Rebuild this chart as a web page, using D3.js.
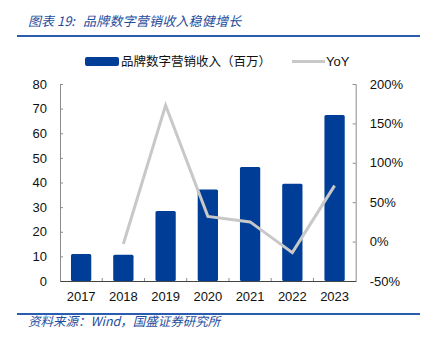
<!DOCTYPE html>
<html><head><meta charset="utf-8">
<script src="https://cdn.jsdelivr.net/npm/d3@7"></script>
<style>body{margin:0;background:#fff}</style>
</head><body>
<svg id="c" width="431" height="340"></svg>
<script>
const years = ["2017","2018","2019","2020","2021","2022","2023"];
const revenue = [11.0, 10.7, 28.4, 37.2, 46.3, 39.5, 67.4];
const yoy = [null, -3, 173, 32, 25, -14, 71];
const leftTicks = [0,10,20,30,40,50,60,70,80];
const rightTicks = [-50,0,50,100,150,200];

const svg = d3.select("#c");
const blue = "#003d96", grey = "#c8c8c8", axisCol = "#8c8c8c";
const font = "Tahoma, 'Liberation Sans', 'DejaVu Sans', sans-serif";
const cjk = "'Noto Sans CJK SC', sans-serif";
const L = 60, R = 355.7, T = 84, B = 281;

const x = d3.scaleBand().domain(years).range([L, R]).paddingInner(0.52).paddingOuter(0.26);
const xb = d3.scaleBand().domain(years).range([L, R]);
const yL = d3.scaleLinear().domain([0, 80]).range([B, T]);
const yR = d3.scaleLinear().domain([-50, 200]).range([B, T]);

// title
svg.append("text").attr("x", 28).attr("y", 26).attr("font-family", cjk)
  .attr("font-style", "italic").attr("font-size", 13).attr("fill", "#1f4e9c")
  .text("图表 19:");
svg.append("text").attr("x", 83).attr("y", 26).attr("font-family", cjk)
  .attr("font-style", "italic").attr("font-size", 13).attr("fill", "#1f4e9c")
  .attr("letter-spacing", 0.2)
  .text("品牌数字营销收入稳健增长");
svg.append("line").attr("x1", 17).attr("x2", 420).attr("y1", 36).attr("y2", 36)
  .attr("stroke", "#2a5db0").attr("stroke-width", 2);

// bars
svg.append("g").selectAll("rect").data(years).join("rect")
  .attr("x", d => x(d)).attr("width", x.bandwidth())
  .attr("y", (d, i) => yL(revenue[i])).attr("height", (d, i) => B - yL(revenue[i]))
  .attr("rx", 1.5).attr("fill", blue);

// line
const line = d3.line().defined(d => d[1] != null)
  .x(d => xb(d[0]) + xb.bandwidth() / 2).y(d => yR(d[1]));
svg.append("path").datum(years.map((d, i) => [d, yoy[i]]))
  .attr("d", line).attr("fill", "none").attr("stroke", grey).attr("stroke-width", 3)
  .attr("stroke-linejoin", "miter");

// axes
const gL = svg.append("g").attr("transform", `translate(${L},0)`)
  .call(d3.axisLeft(yL).tickValues(leftTicks).tickSize(-3).tickPadding(13).tickFormat(d3.format("d")));
const gR = svg.append("g").attr("transform", `translate(${R},0)`)
  .call(d3.axisRight(yR).tickValues(rightTicks).tickSize(-3).tickPadding(14).tickFormat(d => d + "%"));
const gB = svg.append("g").attr("transform", `translate(0,${B})`)
  .call(d3.axisBottom(xb).tickSize(0).tickPadding(11));
[gL, gR, gB].forEach(g => {
  g.selectAll("text").attr("font-family", font).attr("font-size", 13).attr("fill", "#111");
  g.selectAll("path,line").attr("stroke", axisCol);
});
gB.select("path").attr("stroke", "#444");
// category separators
svg.append("g").selectAll("line").data(years.slice(1)).join("line")
  .attr("x1", d => xb(d)).attr("x2", d => xb(d)).attr("y1", B - 3).attr("y2", B)
  .attr("stroke", axisCol);

// legend
svg.append("rect").attr("x", 85).attr("y", 57).attr("width", 34).attr("height", 9)
  .attr("rx", 2).attr("fill", blue);
svg.append("text").attr("x", 121).attr("y", 66).attr("font-family", cjk)
  .attr("font-size", 12.5).attr("fill", "#111").text("品牌数字营销收入（百万）");
svg.append("line").attr("x1", 292).attr("x2", 325).attr("y1", 61.5).attr("y2", 61.5)
  .attr("stroke", grey).attr("stroke-width", 3);
svg.append("text").attr("x", 326).attr("y", 66).attr("font-family", font)
  .attr("font-size", 13).attr("fill", "#111").text("YoY");

// footer
svg.append("line").attr("x1", 17).attr("x2", 420).attr("y1", 314).attr("y2", 314)
  .attr("stroke", "#2a5db0").attr("stroke-width", 2);
svg.append("text").attr("x", 28).attr("y", 326).attr("font-family", cjk)
  .attr("font-style", "italic").attr("font-size", 12.5).attr("fill", "#1f4e9c")
  .text("资料来源：Wind，国盛证券研究所");
</script>
</body></html>
